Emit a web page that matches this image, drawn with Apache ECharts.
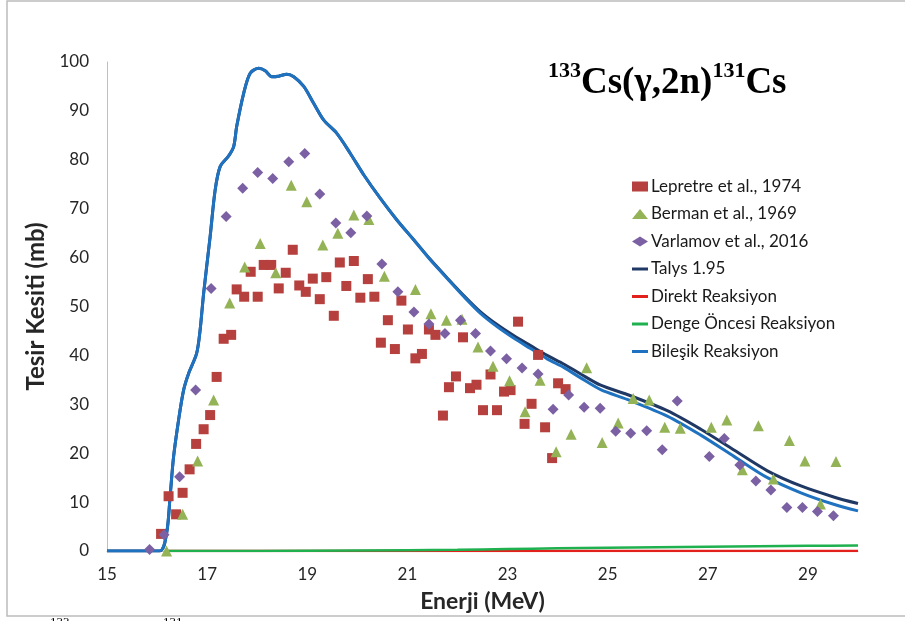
<!DOCTYPE html>
<html>
<head>
<meta charset="utf-8">
<script src="https://cdn.jsdelivr.net/npm/echarts@6/dist/echarts.min.js"></script>
<style>
  html, body { margin: 0; padding: 0; background: #fff; }
  #chart { width: 905px; height: 621px; }
</style>
</head>
<body>
<div id="chart"></div>
<script>
// x axis labels
const xTickLabels = [15, 17, 19, 21, 23, 25, 27, 29];

// Lepretre et al., 1974
const lepretreE = [16.08, 16.23, 16.38, 16.51, 16.65, 16.78, 16.93, 17.06, 17.19, 17.33, 17.48, 17.59, 17.74, 17.87, 18.01, 18.13, 18.28, 18.43, 18.57, 18.71, 18.84, 18.97, 19.11, 19.25, 19.38, 19.53, 19.65, 19.78, 19.93, 20.06, 20.21, 20.34, 20.47, 20.61, 20.75, 20.88, 21.01, 21.16, 21.29, 21.43, 21.56, 21.71, 21.83, 21.97, 22.11, 22.25, 22.38, 22.51, 22.66, 22.79, 22.93, 23.06, 23.21, 23.34, 23.48, 23.61, 23.75, 23.89, 24.01, 24.16];
const lepretreXS = [3.5, 11.2, 7.5, 11.9, 16.7, 21.9, 24.9, 27.8, 35.6, 43.4, 44.2, 53.5, 52.0, 57.1, 52.0, 58.5, 58.5, 53.7, 56.9, 61.6, 54.3, 53.0, 55.7, 51.5, 56.0, 48.1, 59.0, 54.2, 59.3, 51.8, 55.6, 52.0, 42.6, 47.2, 41.3, 51.2, 45.3, 39.4, 40.3, 45.3, 44.2, 27.7, 33.5, 35.7, 43.7, 33.3, 34.0, 28.8, 36.1, 28.8, 32.6, 32.9, 46.9, 26.0, 30.1, 40.1, 25.3, 19.0, 34.3, 33.1];

// Berman et al., 1969
const bermanE = [16.19, 16.51, 16.81, 17.13, 17.45, 17.75, 18.06, 18.37, 18.68, 18.99, 19.31, 19.61, 19.93, 20.23, 20.54, 21.16, 21.47, 21.78, 22.09, 22.41, 22.71, 23.04, 23.35, 23.65, 23.97, 24.27, 24.58, 24.89, 25.21, 25.51, 25.83, 26.14, 26.45, 27.07, 27.38, 27.69, 28.01, 28.31, 28.63, 28.94, 29.25, 29.56];
const bermanXS = [0, 7.5, 18.4, 30.9, 50.7, 58.1, 62.9, 56.9, 74.8, 71.4, 62.6, 65.0, 68.7, 67.8, 56.2, 53.5, 48.5, 47.2, 47.4, 41.7, 37.8, 34.8, 28.5, 34.9, 20.3, 23.9, 37.5, 22.2, 26.2, 31.2, 30.9, 25.3, 25.1, 25.3, 26.8, 16.6, 25.6, 14.7, 22.6, 18.4, 9.6, 18.3];

// Varlamov et al., 2016
const varlamovE = [15.85, 16.14, 16.45, 16.77, 17.08, 17.38, 17.71, 18.01, 18.31, 18.63, 18.95, 19.25, 19.57, 19.87, 20.19, 20.49, 20.81, 21.13, 21.43, 21.75, 22.06, 22.36, 22.66, 22.98, 23.29, 23.61, 23.91, 24.22, 24.53, 24.85, 25.16, 25.46, 25.78, 26.09, 26.39, 27.03, 27.33, 27.64, 27.96, 28.26, 28.58, 28.89, 29.19, 29.51];
const varlamovXS = [0.3, 3.3, 15.2, 32.9, 53.7, 68.4, 74.2, 77.4, 76.2, 79.6, 81.3, 73.0, 67.1, 65.1, 68.5, 58.7, 53.0, 48.9, 46.4, 44.5, 47.2, 44.5, 40.9, 39.3, 37.4, 36.2, 29.0, 31.9, 29.4, 29.2, 24.5, 24.1, 24.6, 20.7, 30.7, 19.3, 23.0, 17.6, 14.3, 12.5, 8.9, 8.9, 8.1, 7.2];

// Talys 1.95 calculations
const calcE = [15, 16.05, 16.19, 16.26, 16.33, 16.43, 16.53, 16.63, 16.79, 16.86, 16.93, 17.06, 17.16, 17.26, 17.43, 17.53, 17.59, 17.73, 17.86, 18.03, 18.16, 18.29, 18.43, 18.59, 18.73, 18.93, 19.13, 19.33, 19.59, 19.86, 20.13, 20.46, 20.79, 21.13, 21.46, 21.79, 22.13, 22.46, 22.79, 23.13, 23.46, 23.79, 24.13, 24.46, 24.86, 25.39, 26.19, 26.86, 27.53, 28.19, 28.86, 29.53, 30.0];
const bilesikXS = [0, 0, 3.6, 11.1, 19.3, 26.8, 32.9, 36.3, 40.4, 45.2, 52.7, 64.3, 73.8, 78.6, 80.8, 82.7, 86.8, 93.6, 97.7, 98.7, 98.2, 97.0, 97.1, 97.5, 97.0, 95.0, 91.5, 88.1, 85.4, 81.3, 76.9, 72.1, 67.7, 63.6, 59.5, 55.8, 52.0, 48.6, 45.9, 43.5, 41.4, 39.3, 37.5, 35.4, 33.0, 31.0, 27.6, 23.7, 19.3, 15.0, 11.9, 9.5, 8.2];
const talysXS = [0, 0, 3.6, 11.1, 19.3, 26.8, 32.9, 36.3, 40.4, 45.2, 52.7, 64.3, 73.8, 78.6, 80.8, 82.7, 86.8, 93.6, 97.7, 98.7, 98.2, 97.0, 97.1, 97.5, 97.0, 95.0, 91.5, 88.1, 85.4, 81.3, 76.9, 72.1, 67.7, 63.6, 59.6, 55.9, 52.2, 48.9, 46.3, 44.0, 42.0, 40.0, 38.2, 36.2, 33.9, 32.0, 28.7, 24.9, 20.6, 16.4, 13.3, 11.0, 9.7];
const dengeE = [16.2, 18.0, 20.0, 22.0, 23.0, 24.0, 25.0, 26.0, 27.0, 28.0, 29.0, 30.0];
const dengeXS = [0, 0.02, 0.1, 0.25, 0.4, 0.55, 0.65, 0.75, 0.85, 0.95, 1.05, 1.15];
const direktE = [16.2, 30.0];
const direktXS = [0, 0];

const pairs = (xs, ys) => xs.map((x, i) => [x, ys[i]]);

const sansFont = 'Lato';
const lineIcon = 'path://M0,0H16V3H0Z';

const chart = echarts.init(document.getElementById('chart'));
chart.setOption({
  backgroundColor: '#fff',
  animation: false,
  grid: { left: 107, right: 47, top: 62, bottom: 70 },
  xAxis: {
    type: 'value',
    min: 15,
    max: 30,
    interval: 1,
    name: 'Enerji (MeV)',
    nameLocation: 'middle',
    nameGap: 39,
    nameTextStyle: { fontFamily: sansFont, fontWeight: 'bold', fontSize: 23, color: '#262626' },
    axisLine: { show: true, onZero: false, lineStyle: { color: '#bfbfbf', width: 1 } },
    axisTick: { show: false },
    splitLine: { show: false },
    axisLabel: {
      fontFamily: sansFont, fontSize: 17, color: '#262626', margin: 15,
      formatter: v => xTickLabels.includes(v) ? String(v) : ''
    }
  },
  yAxis: {
    type: 'value',
    min: 0,
    max: 100,
    interval: 10,
    name: 'Tesir Kesiti (mb)',
    nameLocation: 'middle',
    nameGap: 50,
    nameTextStyle: { fontFamily: sansFont, fontWeight: 'bold', fontSize: 24, color: '#262626' },
    axisLine: { show: true, lineStyle: { color: '#bfbfbf', width: 1 } },
    axisTick: { show: false },
    splitLine: { show: false },
    axisLabel: { fontFamily: sansFont, fontSize: 17, color: '#262626', margin: 18 }
  },
  legend: {
    orient: 'vertical',
    left: 632,
    top: 178,
    padding: 0,
    itemWidth: 16,
    itemHeight: 10,
    itemGap: 10.5,
    textStyle: { fontFamily: sansFont, fontSize: 17, color: '#1a1a1a', lineHeight: 17, padding: [0, 0, 0, -2] },
    data: [
      { name: 'Lepretre et al., 1974' },
      { name: 'Berman et al., 1969' },
      { name: 'Varlamov et al., 2016' },
      { name: 'Talys 1.95', icon: lineIcon },
      { name: 'Direkt Reaksiyon', icon: lineIcon },
      { name: 'Denge Öncesi Reaksiyon', icon: lineIcon },
      { name: 'Bileşik Reaksiyon', icon: lineIcon }
    ]
  },
  graphic: [
    {
      type: 'rect', silent: true, z: -1,
      shape: { x: 7, y: 1, width: 910, height: 615 },
      style: { fill: 'none', stroke: '#bcbcbc', lineWidth: 1.5 }
    },
    {
      type: 'text', left: 548, top: 60,
      style: {
        text: '{s|133}{b|Cs(γ,2n)}{s|131}{b|Cs}',
        rich: {
          b: { fontFamily: 'Liberation Serif', fontWeight: 'bold', fontSize: 37, fill: '#000', lineHeight: 42, verticalAlign: 'bottom' },
          s: { fontFamily: 'Liberation Serif', fontWeight: 'bold', fontSize: 22, fill: '#000', lineHeight: 42, verticalAlign: 'top' }
        }
      }
    },
    {
      type: 'text', left: 50, top: 616,
      style: { text: '133', fontFamily: 'Liberation Serif', fontSize: 13, fill: '#000' }
    },
    {
      type: 'text', left: 163, top: 616,
      style: { text: '131', fontFamily: 'Liberation Serif', fontSize: 13, fill: '#000' }
    }
  ],
  series: [
    {
      name: 'Lepretre et al., 1974', type: 'scatter', z: 5,
      symbol: 'rect', symbolSize: 10,
      itemStyle: { color: '#b5403d', opacity: 1 },
      data: pairs(lepretreE, lepretreXS)
    },
    {
      name: 'Berman et al., 1969', type: 'scatter', z: 5,
      symbol: 'triangle', symbolSize: 11,
      itemStyle: { color: '#93b356', opacity: 1 },
      data: pairs(bermanE, bermanXS)
    },
    {
      name: 'Varlamov et al., 2016', type: 'scatter', z: 5,
      symbol: 'diamond', symbolSize: 11,
      itemStyle: { color: '#7b60a3', opacity: 1 },
      data: pairs(varlamovE, varlamovXS)
    },
    {
      name: 'Talys 1.95', type: 'line', z: 3, symbol: 'none', smooth: 0.3,
      lineStyle: { color: '#1f3864', width: 3 }, itemStyle: { color: '#1f3864' },
      data: pairs(calcE, talysXS)
    },
    {
      name: 'Direkt Reaksiyon', type: 'line', z: 2, symbol: 'none',
      lineStyle: { color: '#e3211c', width: 2.5 }, itemStyle: { color: '#e3211c' },
      data: pairs(direktE, direktXS)
    },
    {
      name: 'Denge Öncesi Reaksiyon', type: 'line', z: 2, symbol: 'none', smooth: 0.3,
      lineStyle: { color: '#1fb04f', width: 2.5 }, itemStyle: { color: '#1fb04f' },
      data: pairs(dengeE, dengeXS)
    },
    {
      name: 'Bileşik Reaksiyon', type: 'line', z: 4, symbol: 'none', smooth: 0.3,
      lineStyle: { color: '#1f72c0', width: 3 }, itemStyle: { color: '#1f72c0' },
      data: pairs(calcE, bilesikXS)
    }
  ]
});
</script>
</body>
</html>
